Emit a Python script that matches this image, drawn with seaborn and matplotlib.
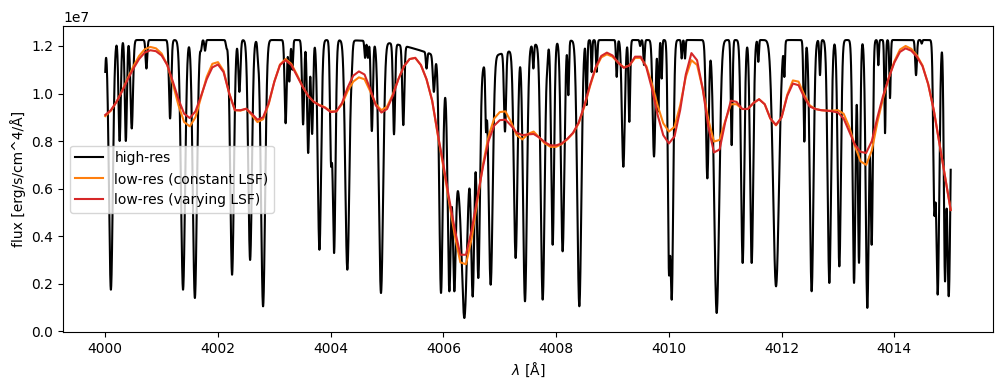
import numpy as np
import matplotlib
matplotlib.use("Agg")
import matplotlib.pyplot as plt
import seaborn as sns

# flux unit: 1e7 erg/s/cm^4/A
continuum = 1.225

# absorption lines of the high-res spectrum:
# centre [A], flux at the line core, gaussian sigma [A]
line_wave = [3999.97, 4000.10, 4000.255, 4000.365, 4000.47, 4000.73, 4001.15, 4001.38,
             4001.59, 4001.70, 4001.77, 4002.15, 4002.25, 4002.38, 4002.57, 4002.71,
             4002.80, 4003.20, 4003.265, 4003.32, 4003.51, 4003.60, 4003.67, 4003.80,
             4004.005, 4004.06, 4004.295, 4004.37, 4004.61, 4004.66, 4004.73, 4004.892,
             4005.123, 4005.288, 4005.70, 4005.83, 4005.957, 4006.105, 4006.193, 4006.371,
             4006.519, 4006.619, 4006.755, 4006.838, 4007.092, 4007.281, 4007.447, 4007.595,
             4007.761, 4007.843, 4007.938, 4008.115, 4008.216, 4008.411, 4008.541, 4008.63,
             4008.719, 4009.074, 4009.192, 4009.298, 4009.49, 4009.559, 4009.736, 4009.813,
             4009.872, 4010.002, 4010.05, 4010.227, 4010.286, 4010.682, 4010.848, 4011.114,
             4011.309, 4011.469, 4011.587, 4011.901, 4012.049, 4012.403, 4012.533, 4012.681,
             4012.847, 4013.024, 4013.285, 4013.373, 4013.521, 4013.598, 4013.716, 4013.835,
             4013.923, 4014.385, 4014.485, 4014.71, 4014.769, 4014.899, 4014.965]
line_core = [0.85, 0.175, 0.80, 0.80, 0.853, 1.105, 0.895, 0.175,
             0.14, 1.18, 1.18, 1.19, 0.238, 1.007, 0.30, 1.13,
             0.105, 0.875, 1.05, 1.10, 0.87, 0.75, 0.83, 0.343,
             0.70, 0.329, 0.259, 1.056, 1.15, 1.15, 0.842, 0.161,
             0.828, 0.867, 1.105, 1.007, 0.161, 0.168, 0.168, 0.056,
             0.146, 0.224, 0.84, 0.196, 0.84, 0.308, 0.126, 1.105,
             0.133, 1.105, 0.364, 0.336, 0.993, 0.105, 0.951, 1.09,
             1.091, 1.07, 0.692, 0.881, 1.20, 1.12, 0.735, 0.924,
             1.063, 0.238, 0.133, 1.147, 1.147, 0.643, 0.077, 0.783,
             0.287, 0.287, 1.133, 0.189, 1.07, 0.797, 0.168, 1.077,
             0.203, 0.273, 0.203, 0.287, 0.098, 0.364, 1.119, 0.832,
             0.98, 1.077, 1.21, 0.49, 0.154, 0.21, 0.147]
line_sigma = [0.020, 0.034, 0.020, 0.018, 0.022, 0.015, 0.020, 0.036,
              0.036, 0.012, 0.012, 0.012, 0.032, 0.018, 0.032, 0.012,
              0.036, 0.018, 0.015, 0.012, 0.018, 0.020, 0.018, 0.030,
              0.018, 0.025, 0.036, 0.015, 0.012, 0.012, 0.018, 0.038,
              0.018, 0.018, 0.012, 0.018, 0.030, 0.028, 0.026, 0.042,
              0.028, 0.028, 0.012, 0.036, 0.018, 0.032, 0.034, 0.012,
              0.034, 0.012, 0.025, 0.030, 0.012, 0.036, 0.012, 0.010,
              0.012, 0.012, 0.026, 0.015, 0.010, 0.012, 0.024, 0.012,
              0.010, 0.020, 0.027, 0.010, 0.010, 0.024, 0.044, 0.015,
              0.028, 0.028, 0.010, 0.052, 0.010, 0.015, 0.032, 0.012,
              0.030, 0.028, 0.025, 0.020, 0.028, 0.020, 0.010, 0.012,
              0.012, 0.015, 0.010, 0.020, 0.028, 0.020, 0.030]

# broad blends that pull the pseudo-continuum down around 4006 A
broad_wave = [4006.33, 4006.40]
broad_depth = [0.50, 0.07]
broad_sigma = [0.16, 0.70]

# low-res spectra, read every 0.1 A from 4000 to 4015
lowres_const = [0.905, 0.928, 0.965, 1.012, 1.065, 1.115, 1.158, 1.186, 1.196, 1.190,
                1.168, 1.120, 1.040, 0.950, 0.880, 0.862, 0.900, 0.985, 1.070, 1.125,
                1.132, 1.095, 1.000, 0.930, 0.928, 0.936, 0.910, 0.880, 0.892, 0.955,
                1.050, 1.122, 1.145, 1.125, 1.080, 1.030, 0.990, 0.965, 0.952, 0.942,
                0.925, 0.925, 0.955, 1.010, 1.050, 1.068, 1.060, 1.010, 0.955, 0.930,
                0.945, 0.995, 1.060, 1.115, 1.145, 1.150, 1.120, 1.060, 0.970, 0.825,
                0.690, 0.545, 0.405, 0.290, 0.282, 0.390, 0.545, 0.700, 0.820, 0.895,
                0.922, 0.925, 0.880, 0.825, 0.807, 0.830, 0.840, 0.815, 0.790, 0.776,
                0.776, 0.788, 0.808, 0.833, 0.875, 0.945, 1.030, 1.105, 1.152, 1.165,
                1.155, 1.130, 1.110, 1.118, 1.150, 1.150, 1.115, 1.040, 0.950, 0.875,
                0.840, 0.860, 0.950, 1.070, 1.140, 1.120, 1.020, 0.890, 0.798, 0.805,
                0.885, 0.955, 0.955, 0.935, 0.935, 0.960, 0.976, 0.955, 0.895, 0.866,
                0.900, 0.995, 1.055, 1.050, 0.995, 0.950, 0.935, 0.930, 0.928, 0.928,
                0.930, 0.915, 0.860, 0.780, 0.715, 0.700, 0.760, 0.880, 0.980, 1.065,
                1.135, 1.185, 1.200, 1.188, 1.160, 1.118, 1.040, 0.930, 0.790, 0.650,
                0.510]
lowres_vary = [0.910, 0.930, 0.965, 1.010, 1.060, 1.105, 1.145, 1.172, 1.182, 1.178,
               1.160, 1.120, 1.050, 0.975, 0.915, 0.897, 0.925, 0.990, 1.060, 1.110,
               1.122, 1.090, 1.000, 0.930, 0.930, 0.936, 0.915, 0.890, 0.900, 0.960,
               1.050, 1.120, 1.140, 1.120, 1.075, 1.030, 0.990, 0.965, 0.950, 0.940,
               0.922, 0.925, 0.960, 1.025, 1.075, 1.093, 1.080, 1.020, 0.950, 0.920,
               0.935, 0.990, 1.060, 1.115, 1.145, 1.150, 1.120, 1.060, 0.970, 0.830,
               0.700, 0.560, 0.430, 0.322, 0.322, 0.425, 0.560, 0.690, 0.800, 0.865,
               0.888, 0.890, 0.865, 0.835, 0.825, 0.828, 0.830, 0.815, 0.795, 0.782,
               0.782, 0.790, 0.810, 0.835, 0.878, 0.950, 1.035, 1.110, 1.158, 1.172,
               1.160, 1.130, 1.108, 1.118, 1.155, 1.155, 1.110, 1.020, 0.910, 0.825,
               0.790, 0.820, 0.930, 1.080, 1.170, 1.140, 1.020, 0.860, 0.752, 0.765,
               0.880, 0.970, 0.965, 0.935, 0.935, 0.960, 0.976, 0.955, 0.895, 0.868,
               0.900, 0.990, 1.042, 1.035, 0.985, 0.945, 0.935, 0.930, 0.928, 0.925,
               0.920, 0.895, 0.840, 0.785, 0.755, 0.750, 0.800, 0.900, 0.990, 1.065,
               1.130, 1.175, 1.190, 1.180, 1.155, 1.115, 1.040, 0.930, 0.790, 0.650,
               0.510]
lowres_wave = np.round(4000.0 + 0.1 * np.arange(len(lowres_vary)), 1)


def absorption(centres, depths, sigmas, x):
    f = np.ones_like(x, dtype=float)
    for c, d, s in zip(centres, depths, sigmas):
        f *= 1 - d * np.exp(-0.5 * ((x - c) / s) ** 2)
    return f


# tune the line depths so each core sits at the flux
centres = np.array(line_wave)
cores = np.array(line_core)
depth = 1 - cores / continuum
for _ in range(40):
    model = continuum * absorption(broad_wave, broad_depth, broad_sigma, centres) \
        * absorption(line_wave, depth, line_sigma, centres)
    depth = np.clip(1 - (1 - depth) * cores / model, 0.0, 0.995)

wave = np.linspace(4000.0, 4015.0, 7501)
flux = continuum * absorption(broad_wave, broad_depth, broad_sigma, wave) \
    * absorption(line_wave, depth, line_sigma, wave)

fig, ax = plt.subplots(figsize=(10.03, 3.9), dpi=100)
fig.subplots_adjust(left=0.0628, right=0.990, bottom=0.149, top=0.933)

sns.lineplot(x=wave, y=flux * 1e7, color='k', label='high-res',
             estimator=None, ax=ax)
sns.lineplot(x=lowres_wave, y=np.array(lowres_const) * 1e7, color='tab:orange',
             label='low-res (constant LSF)', estimator=None, ax=ax)
sns.lineplot(x=lowres_wave, y=np.array(lowres_vary) * 1e7, color='tab:red',
             label='low-res (varying LSF)', estimator=None, ax=ax)

ax.set_xlabel(r'$\lambda$ [Å]')
ax.set_ylabel('flux [erg/s/cm^4/Å]')
ax.legend(loc='center left')

fig.savefig('out.png', dpi=100)
